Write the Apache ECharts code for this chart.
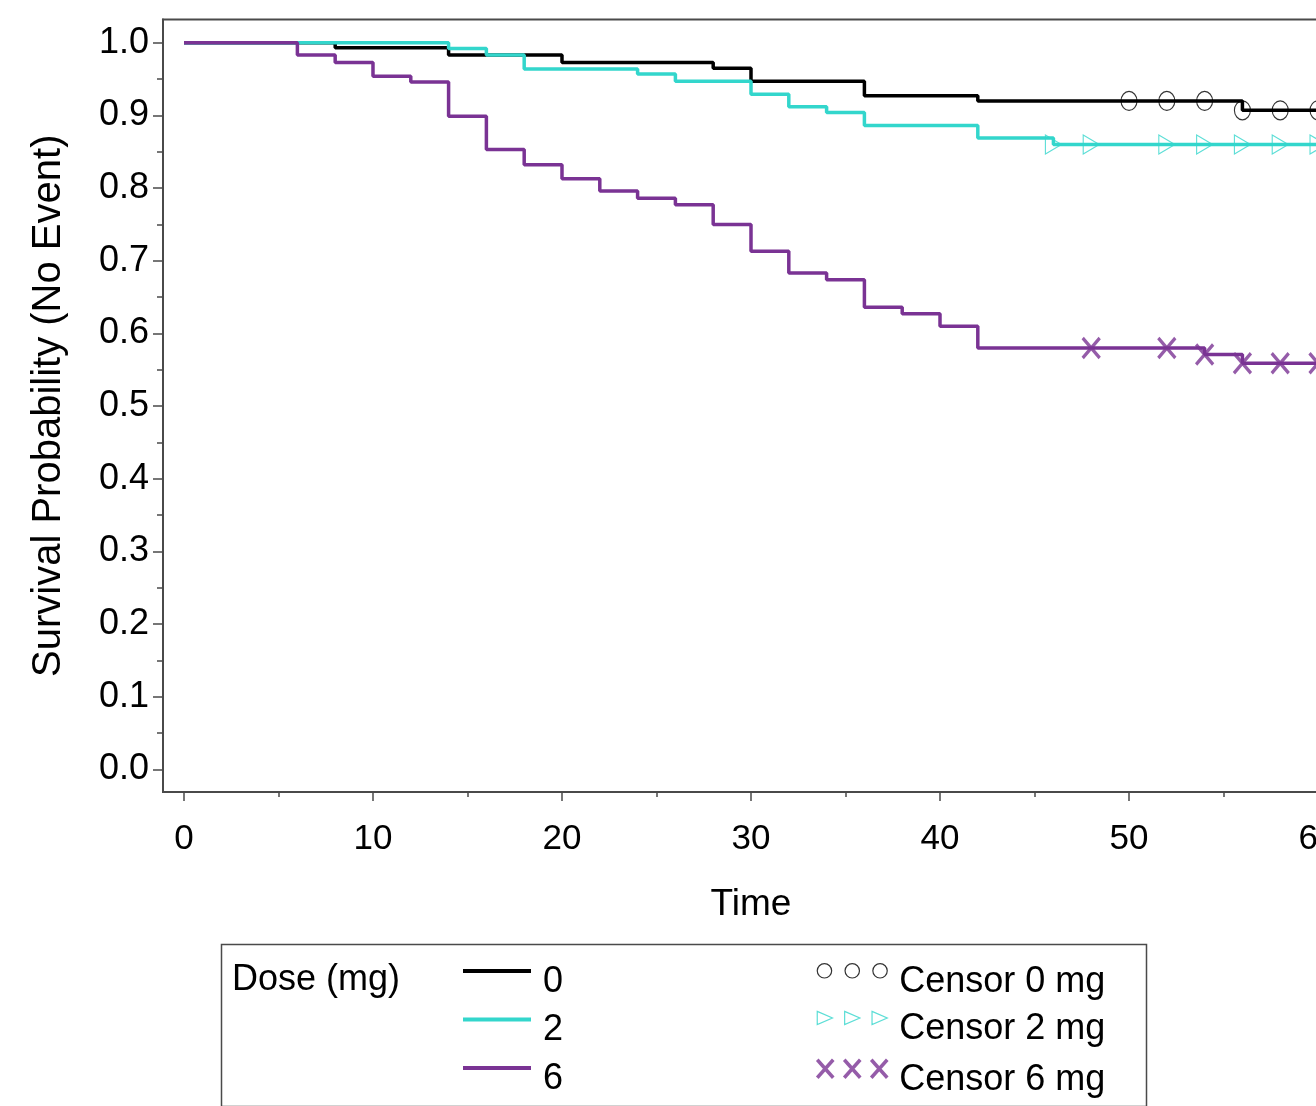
<!DOCTYPE html>
<html>
<head>
<meta charset="utf-8">
<script src="https://cdn.jsdelivr.net/npm/echarts@6/dist/echarts.min.js"></script>
<style>
html,body{margin:0;padding:0;background:#fff;}
#chart{width:1316px;height:1106px;}
</style>
</head>
<body>
<div id="chart"></div>
<script>
// ---- data ----
const time0 = [0, 8, 14, 20, 28, 30, 36, 42, 56, 60];
const surv0 = [1.000, 0.993, 0.983, 0.973, 0.965, 0.947, 0.927, 0.920, 0.907, 0.907];

const time2 = [0, 14, 16, 18, 24, 26, 30, 32, 34, 36, 42, 46, 60];
const surv2 = [1.000, 0.992, 0.983, 0.964, 0.957, 0.947, 0.929, 0.912, 0.904, 0.886, 0.869, 0.860, 0.860];

const time6 = [0, 6, 8, 10, 12, 14, 16, 18, 20, 22, 24, 26, 28, 30, 32, 34, 36, 38, 40, 42, 54, 56, 60];
const surv6 = [1.000, 0.983, 0.973, 0.954, 0.946, 0.899, 0.853, 0.832, 0.813, 0.796, 0.786, 0.777, 0.750, 0.713, 0.683, 0.674, 0.636, 0.627, 0.610, 0.580, 0.571, 0.559, 0.559];

const cens0Time = [50, 52, 54, 56, 58, 60];
const cens0Surv = [0.920, 0.920, 0.920, 0.907, 0.907, 0.907];
const cens2Time = [46, 48, 52, 54, 56, 58, 60];
const cens2Surv = [0.860, 0.860, 0.860, 0.860, 0.860, 0.860, 0.860];
const cens6Time = [48, 52, 54, 56, 58, 60];
const cens6Surv = [0.580, 0.580, 0.571, 0.559, 0.559, 0.559];

const doseNames = ['0', '2', '6'];
const censorNames = ['Censor 0 mg', 'Censor 2 mg', 'Censor 6 mg'];

const xTickValues = [0, 10, 20, 30, 40, 50, 60];
const xTickLabels = ['0', '10', '20', '30', '40', '50', '60'];
const xMinorTicks = [5, 15, 25, 35, 45, 55];
const yTickValues = [0, 0.1, 0.2, 0.3, 0.4, 0.5, 0.6, 0.7, 0.8, 0.9, 1.0];
const yTickLabels = ['0.0', '0.1', '0.2', '0.3', '0.4', '0.5', '0.6', '0.7', '0.8', '0.9', '1.0'];
const yMinorTicks = [0.05, 0.15, 0.25, 0.35, 0.45, 0.55, 0.65, 0.75, 0.85, 0.95];

// ---- styling ----
const FONT = 'Liberation Sans, Arial, sans-serif';
const C_BLACK = '#000000';
const C_TEAL = '#33d6cc';
const C_PURPLE = '#7a3394';
const AXIS_C = '#4a4a4a';
const X_MIN = -1.11, X_MAX = 61.11;
const Y_MIN = -0.031, Y_MAX = 1.032;

function zip(a, b) { return a.map((v, i) => [v, b[i]]); }
function labelFor(values, labels) {
  return function (v) {
    for (let i = 0; i < values.length; i++) {
      if (Math.abs(values[i] - v) < 1e-9) return labels[i];
    }
    return '';
  };
}

const circlesIcon = 'path://M14,7A7,7,0,1,1,0,7A7,7,0,1,1,14,7Z M41,7A7,7,0,1,1,27,7A7,7,0,1,1,41,7Z M68,7A7,7,0,1,1,54,7A7,7,0,1,1,68,7Z';
const trianglesIcon = 'path://M0,0L15,6.5L0,13Z M27,0L42,6.5L27,13Z M54,0L69,6.5L54,13Z';
const crossesIcon = 'path://M0,0L16,18M16,0L0,18 M27,0L43,18M43,0L27,18 M54,0L70,18M70,0L54,18';

const chart = echarts.init(document.getElementById('chart'), null, { renderer: 'canvas' });

const legendText = {
  fontSize: 36, fontFamily: FONT, color: '#000',
  rich: {
    a: { fontSize: 36, fontFamily: FONT, color: '#000', lineHeight: 40, verticalAlign: 'bottom', padding: [0, 0, 0, 7] },
    b: { fontSize: 10, lineHeight: 58, width: 1 }
  }
};
const legendFormatter = function (name) { return '{a|' + name + '}{b| }'; };

const option = {
  animation: false,
  backgroundColor: '#ffffff',
  grid: {
    left: 163, top: 19.5, width: 1176, height: 772.5,
    outerBoundsMode: 'none', containLabel: false,
    show: true, borderColor: AXIS_C, borderWidth: 2, backgroundColor: 'transparent'
  },
  xAxis: [
    {
      type: 'value', min: X_MIN, max: X_MAX, position: 'bottom',
      name: 'Time', nameLocation: 'middle', nameGap: 94,
      nameTextStyle: { fontSize: 37, fontFamily: FONT, color: '#000' },
      axisLine: { show: true, onZero: false, lineStyle: { color: AXIS_C, width: 2 } },
      axisTick: { show: true, length: 9, customValues: xTickValues, lineStyle: { color: AXIS_C, width: 1.5 } },
      axisLabel: { show: true, customValues: xTickValues, formatter: labelFor(xTickValues, xTickLabels),
        fontSize: 35, fontFamily: FONT, color: '#000', margin: 30 },
      splitLine: { show: false }
    },
    {
      type: 'value', min: X_MIN, max: X_MAX, position: 'bottom',
      axisLine: { show: false, onZero: false },
      axisTick: { show: true, length: 5, customValues: xMinorTicks, lineStyle: { color: AXIS_C, width: 1.5 } },
      axisLabel: { show: false },
      splitLine: { show: false }
    }
  ],
  yAxis: [
    {
      type: 'value', min: Y_MIN, max: Y_MAX, position: 'left',
      name: 'Survival Probability (No Event)', nameLocation: 'middle', nameGap: 94,
      nameTextStyle: { fontSize: 40, fontFamily: FONT, color: '#000' },
      axisLine: { show: true, onZero: false, lineStyle: { color: AXIS_C, width: 2 } },
      axisTick: { show: true, length: 10, customValues: yTickValues, lineStyle: { color: AXIS_C, width: 1.5 } },
      axisLabel: { show: true, customValues: yTickValues, formatter: labelFor(yTickValues, yTickLabels),
        fontSize: 36, fontFamily: FONT, color: '#000', margin: 14 },
      splitLine: { show: false }
    },
    {
      type: 'value', min: Y_MIN, max: Y_MAX, position: 'left',
      axisLine: { show: false, onZero: false },
      axisTick: { show: true, length: 6, customValues: yMinorTicks, lineStyle: { color: AXIS_C, width: 1.5 } },
      axisLabel: { show: false },
      splitLine: { show: false }
    }
  ],
  legend: [
    {
      orient: 'vertical', left: 463, top: 964, padding: 0,
      itemWidth: 68, itemHeight: 4, itemGap: 12.5, icon: 'rect',
      selectedMode: false,
      data: doseNames,
      formatter: legendFormatter,
      textStyle: legendText
    },
    {
      orient: 'vertical', left: 815.5, top: 963, padding: 0,
      itemWidth: 70, itemHeight: 18, itemGap: 11,
      selectedMode: false,
      data: [
        { name: censorNames[0], icon: circlesIcon, itemStyle: { color: 'transparent', borderColor: C_BLACK, borderWidth: 1.2 } },
        { name: censorNames[1], icon: trianglesIcon, itemStyle: { color: 'transparent', borderColor: C_TEAL, borderWidth: 1.2 } },
        { name: censorNames[2], icon: crossesIcon, itemStyle: { color: 'transparent', borderColor: C_PURPLE, borderWidth: 3.5 } }
      ],
      formatter: legendFormatter,
      textStyle: legendText
    }
  ],
  graphic: [
    { type: 'rect', left: 219, top: 942, silent: true,
      shape: { width: 925, height: 162 },
      style: { fill: 'none', stroke: AXIS_C, lineWidth: 1.5 } },
    { type: 'text', left: 232, top: 962, silent: true,
      style: { text: 'Dose (mg)', fontSize: 36, fontFamily: FONT, fill: '#000' } }
  ],
  series: [
    { name: doseNames[0], type: 'line', step: 'end', data: zip(time0, surv0), symbol: 'none', showSymbol: false,
      color: C_BLACK, lineStyle: { color: C_BLACK, width: 3.5 }, z: 2 },
    { name: doseNames[1], type: 'line', step: 'end', data: zip(time2, surv2), symbol: 'none', showSymbol: false,
      color: C_TEAL, lineStyle: { color: C_TEAL, width: 3.5 }, z: 3 },
    { name: doseNames[2], type: 'line', step: 'end', data: zip(time6, surv6), symbol: 'none', showSymbol: false,
      color: C_PURPLE, lineStyle: { color: C_PURPLE, width: 3.5 }, z: 4 },
    { name: censorNames[0], type: 'scatter', data: zip(cens0Time, cens0Surv), symbol: 'circle', symbolSize: [16, 19],
      color: C_BLACK, itemStyle: { color: 'transparent', borderColor: C_BLACK, borderWidth: 1.2 }, z: 5 },
    { name: censorNames[1], type: 'scatter', data: zip(cens2Time, cens2Surv), symbol: 'path://M0,0L10,6L0,12Z', symbolSize: [16, 19],
      color: C_TEAL, itemStyle: { color: 'transparent', borderColor: C_TEAL, borderWidth: 1.2 }, z: 5 },
    { name: censorNames[2], type: 'scatter', data: zip(cens6Time, cens6Surv), symbol: 'path://M0,0L10,10M10,0L0,10', symbolSize: [17, 20],
      color: C_PURPLE, itemStyle: { color: 'transparent', borderColor: C_PURPLE, borderWidth: 3.5 }, z: 5 }
  ]
};

chart.setOption(option);
</script>
</body>
</html>
